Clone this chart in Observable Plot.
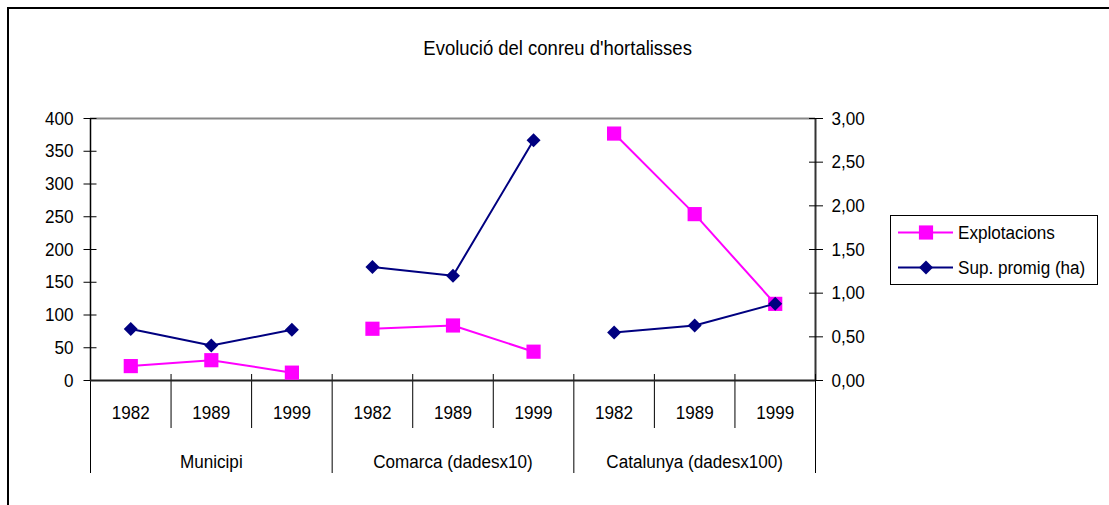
<!DOCTYPE html>
<html><head><meta charset="utf-8">
<script src="https://cdn.jsdelivr.net/npm/d3@7"></script>
<script src="https://cdn.jsdelivr.net/npm/@observablehq/plot@0.6"></script>
<style>
html,body{margin:0;padding:0;background:#fff;}
#wrap{position:relative;width:1109px;height:505px;overflow:hidden;font-family:"Liberation Sans",Arial,sans-serif;color:#000;}
#frame{position:absolute;left:7px;top:7px;width:1130px;height:530px;border:2px solid #000;box-sizing:border-box;}
#title{position:absolute;left:0;width:1116px;top:35px;text-align:center;font-size:21px;line-height:26px;}
#title span{display:inline-block;transform:scaleX(0.88);transform-origin:50% 50%;white-space:nowrap;}
#chart{position:absolute;left:0;top:0;}
#legend{position:absolute;left:890px;top:215px;width:208px;height:70px;border:1px solid #000;box-sizing:border-box;background:#fff;}
#legend svg{display:block;}
</style>
</head>
<body>
<div id="wrap">
  <div id="frame"></div>
  <div id="chart"></div>
  <div id="title"><span></span></div>
  <div id="legend"></div>
</div>
<script>
const titleText = "Evolució del conreu d'hortalisses";
const groups = ["Municipi", "Comarca (dadesx10)", "Catalunya (dadesx100)"];
const years = ["1982", "1989", "1999"];
const seriesNames = ["Explotacions", "Sup. promig (ha)"];
const explotacions = [22, 31, 12, 79, 84, 44, 377, 254, 117];
const supPromig = [0.59, 0.40, 0.58, 1.30, 1.20, 2.75, 0.55, 0.63, 0.88];
const leftTicks = [0, 50, 100, 150, 200, 250, 300, 350, 400];
const rightTicks = [0, 0.5, 1, 1.5, 2, 2.5, 3];

const FONT = '"Liberation Sans",Arial,sans-serif';
const NARROW = 0.9;
const PINK = "#FF00FF", NAVY = "#000080";
const k = leftTicks[leftTicks.length - 1] / rightTicks[rightTicks.length - 1];

const rows = groups.flatMap((g, gi) => years.map((y, yi) => ({
  group: g, year: y, i: gi * years.length + yi,
  expl: explotacions[gi * years.length + yi],
  sup: supPromig[gi * years.length + yi]
})));
const n = rows.length;
const xc = d => d.i + 0.5;

const chart = Plot.plot({
  width: 1109, height: 505,
  marginLeft: 90, marginRight: 294, marginTop: 118, marginBottom: 125,
  style: {fontFamily: FONT, fontSize: "19px", color: "#000", background: "transparent", overflow: "visible"},
  x: {domain: [0, n], axis: null},
  y: {domain: [0, leftTicks[leftTicks.length - 1]], axis: null},
  marks: [
    Plot.ruleY([leftTicks[leftTicks.length - 1]], {stroke: "#888", strokeWidth: 2}),
    Plot.ruleX([n], {stroke: "#333", strokeWidth: 2}),
    Plot.ruleX([0], {stroke: "#000", strokeWidth: 1.5}),
    Plot.axisY(leftTicks, {anchor: "left", tickSize: 13, dx: 6.5, tickPadding: 10.5, tickFormat: d => String(d), label: null}),
    Plot.axisY(rightTicks.map(v => v * k), {anchor: "right", tickSize: 14, dx: -7, tickPadding: 9,
      tickFormat: d => (d / k).toFixed(2).replace(".", ","), label: null}),
    Plot.axisX(d3.range(0, n + 1).filter(v => v % years.length !== 0), {anchor: "bottom", tickSize: 54, dy: -6, tickFormat: () => "", label: null}),
    Plot.axisX(d3.range(0, n + 1, years.length), {anchor: "bottom", tickSize: 99, dy: -6, tickFormat: () => "", label: null}),
    Plot.axisX(rows.map(xc), {anchor: "bottom", tickSize: 0, tickPadding: 25, tickFormat: v => years[Math.floor(v) % years.length], label: null}),
    Plot.axisX(groups.map((g, gi) => gi * years.length + years.length / 2), {anchor: "bottom", tickSize: 0, tickPadding: 74,
      tickFormat: v => groups[Math.floor(v / years.length)], label: null}),
    Plot.ruleY([0], {stroke: "#222", strokeWidth: 2}),
    Plot.line(rows, {x: xc, y: "expl", z: "group", stroke: PINK, strokeWidth: 2}),
    Plot.dot(rows, {x: xc, y: "expl", symbol: "square", r: 8, fill: PINK, stroke: "none"}),
    Plot.line(rows, {x: xc, y: d => d.sup * k, z: "group", stroke: NAVY, strokeWidth: 2}),
    Plot.dot(rows, {x: xc, y: d => d.sup * k, symbol: "diamond2", r: 6.3, fill: NAVY, stroke: "none"})
  ]
});
// condense text horizontally (narrow typeface look); only the x direction is scaled
d3.select(chart).selectAll("text").each(function () {
  const xa = parseFloat(this.getAttribute("x"));
  const x = isFinite(xa) ? xa : 0;
  const t = this.getAttribute("transform") || "";
  this.setAttribute("transform", `${t} translate(${x},0) scale(${NARROW},1) translate(${-x},0)`.trim());
});
document.getElementById("chart").appendChild(chart);
document.querySelector("#title span").textContent = titleText;

// legend
const items = [
  {name: seriesNames[0], color: PINK, sym: d3.symbolSquare, r: 8},
  {name: seriesNames[1], color: NAVY, sym: d3.symbolDiamond2, r: 6.3}
];
const leg = d3.select("#legend").append("svg").attr("width", 206).attr("height", 68)
  .style("font-family", FONT).style("font-size", "19px");
const g = leg.selectAll("g").data(items).join("g")
  .attr("transform", (d, j) => `translate(0,${16.5 + j * 35})`);
g.append("line").attr("x1", 7).attr("x2", 62).attr("stroke", d => d.color).attr("stroke-width", 2);
g.append("path").attr("transform", "translate(35,0)")
  .attr("d", d => d3.symbol(d.sym, Math.PI * d.r * d.r)()).attr("fill", d => d.color);
g.append("text").attr("transform", `translate(67,0) scale(${NARROW},1)`).attr("dy", "0.35em").text(d => d.name);
</script>
</body></html>
